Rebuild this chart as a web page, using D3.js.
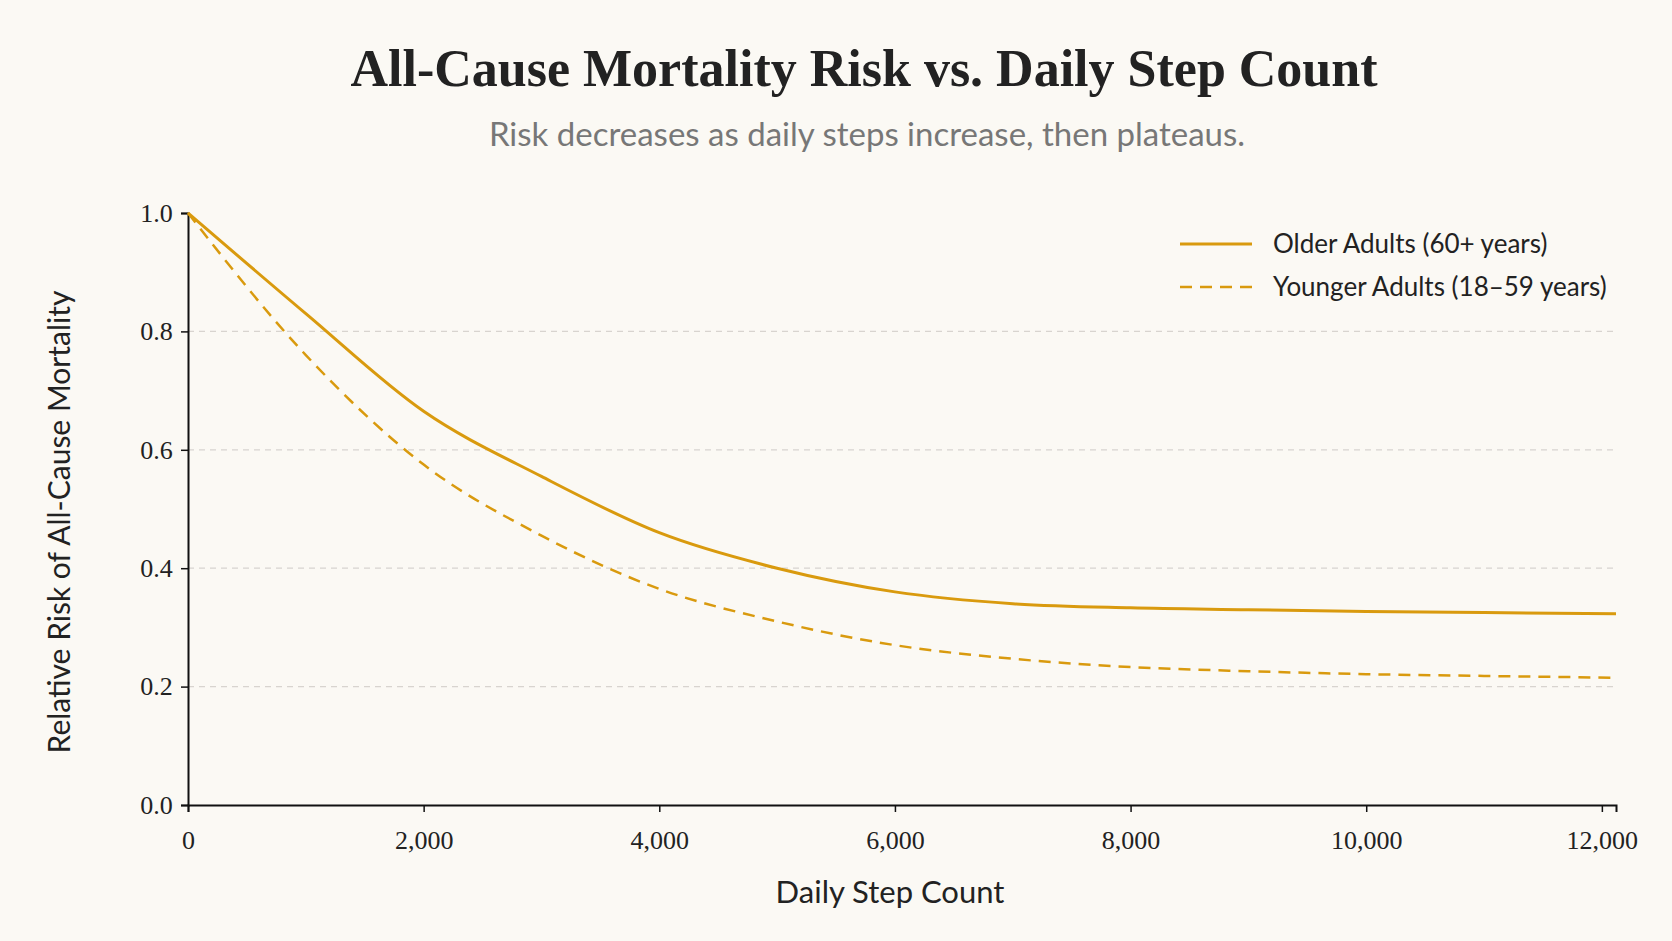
<!DOCTYPE html>
<html><head><meta charset="utf-8">
<script src="https://cdn.jsdelivr.net/npm/d3@7"></script>
<style>body{margin:0;background:#fbf9f4;}</style></head>
<body><svg id="c" width="1672" height="941"></svg>
<script>
const steps = [0,1000,2000,3000,4000,5000,6000,7000,8000,9000,10000,11000,12120];
const older = [1.0,0.83,0.665,0.555,0.46,0.40,0.36,0.34,0.333,0.33,0.327,0.325,0.323];
const younger = [1.0,0.76,0.575,0.455,0.365,0.31,0.27,0.247,0.233,0.226,0.221,0.218,0.215];
const xTicks = [0,2000,4000,6000,8000,10000,12000];
const yTicks = [0,0.2,0.4,0.6,0.8,1.0];
const title = "All-Cause Mortality Risk vs. Daily Step Count";
const subtitle = "Risk decreases as daily steps increase, then plateaus.";
const seriesNames = ["Older Adults (60+ years)","Younger Adults (18\u201359 years)"];

const svg = d3.select("#c");
svg.append("rect").attr("width",1672).attr("height",941).attr("fill","#fbf9f4");
const color = "#d99a0e";
const x = d3.scaleLinear().domain([0,12120]).range([188,1616]);
const y = d3.scaleLinear().domain([0,1]).range([805,213]);
const serif = "'Liberation Serif','DejaVu Serif',serif";
const sans = "Lato,'Open Sans',sans-serif";

svg.append("text").attr("x",864).attr("y",86).attr("text-anchor","middle")
  .attr("font-family",serif).attr("font-weight","bold").attr("font-size",52).attr("fill","#222").text(title);
svg.append("text").attr("x",867).attr("y",146).attr("text-anchor","middle")
  .attr("font-family",sans).attr("font-size",33).attr("fill","#777").text(subtitle);

svg.append("g").selectAll("line").data(yTicks.filter(d=>d>0&&d<1)).join("line")
  .attr("x1",x(0)).attr("x2",1616).attr("y1",d=>y(d)).attr("y2",d=>y(d))
  .attr("stroke","#d8d4cf").attr("stroke-dasharray","6,5").attr("stroke-width",1.3);

const xa = svg.append("g").attr("transform",`translate(0,${y(0)})`)
  .call(d3.axisBottom(x).tickValues(xTicks).tickFormat(d3.format(",")).tickSize(7));
const ya = svg.append("g").attr("transform",`translate(${x(0)},0)`)
  .call(d3.axisLeft(y).tickValues(yTicks).tickFormat(d3.format(".1f")).tickSize(7));
[xa,ya].forEach(a=>{
  a.select(".domain").attr("stroke","#111").attr("stroke-width",2);
  a.selectAll(".tick line").attr("stroke","#111").attr("stroke-width",1.5);
  a.selectAll("text").attr("font-family",serif).attr("font-size",26).attr("fill","#222");
});
xa.selectAll("text").attr("dy","1.3em");
ya.selectAll("text").attr("dx","-0.2em");

svg.append("text").attr("x",890).attr("y",903).attr("text-anchor","middle")
  .attr("font-family",sans).attr("font-size",31).attr("fill","#222").text("Daily Step Count");
svg.append("text").attr("transform","translate(70,522) rotate(-90)").attr("text-anchor","middle")
  .attr("font-family",sans).attr("font-size",30).attr("fill","#222").text("Relative Risk of All-Cause Mortality");

const line = d3.line().x((d,i)=>x(steps[i])).y(d=>y(d)).curve(d3.curveMonotoneX);
svg.append("path").attr("d",line(older)).attr("fill","none").attr("stroke",color).attr("stroke-width",3);
svg.append("path").attr("d",line(younger)).attr("fill","none").attr("stroke",color).attr("stroke-width",2.5).attr("stroke-dasharray","12,8");

seriesNames.forEach((n,i)=>{
  const yy = 244 + i*43;
  svg.append("line").attr("x1",1180).attr("x2",1252).attr("y1",yy).attr("y2",yy)
    .attr("stroke",color).attr("stroke-width",i?2.5:3).attr("stroke-dasharray",i?"12,8":null);
  svg.append("text").attr("x",1273).attr("y",yy+9).attr("font-family",sans).attr("font-size",26)
    .attr("fill","#222").text(n);
});
</script></body></html>
